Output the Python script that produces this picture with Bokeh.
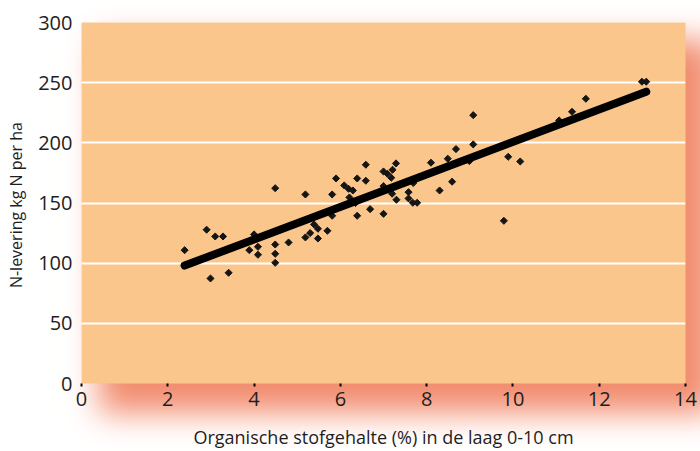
from bokeh.plotting import figure
from bokeh.models import FixedTicker, InlineStyleSheet
from bokeh.embed import file_html
from bokeh.resources import INLINE

# organic matter content (%) in the 0-10 cm layer
organic = [2.39, 2.90, 2.99, 3.10, 3.28, 3.41, 3.89, 4.00, 4.09, 4.09,
           4.49, 4.49, 4.49, 4.49, 4.80, 5.19, 5.19, 5.30, 5.39, 5.48,
           5.48, 5.70, 5.81, 5.81, 5.90, 6.09, 6.19, 6.29, 6.21, 6.39,
           6.59, 6.59, 6.39, 6.69, 6.35, 7.00, 7.09, 7.18, 7.21, 7.29,
           7.00, 7.00, 7.20, 7.30, 7.58, 7.58, 7.68, 7.78, 7.69, 8.10,
           8.30, 8.49, 8.59, 8.68, 8.99, 9.08, 9.08, 9.89, 10.17, 9.79,
           11.07, 11.37, 11.69, 12.99, 13.09]
# N supply, kg N per ha
n_supply = [110.8, 127.8, 87.3, 122.2, 122.2, 92.0, 110.8, 123.9, 113.6, 107.0,
            162.3, 115.5, 107.8, 100.3, 117.2, 157.1, 121.4, 125.0, 132.2, 128.6,
            120.5, 126.9, 157.1, 139.4, 170.4, 164.6, 161.8, 160.4, 154.6, 170.4,
            181.8, 168.5, 139.4, 144.9, 150.0, 176.2, 174.3, 171.0, 177.6, 182.9,
            141.0, 164.0, 157.7, 152.7, 159.0, 153.8, 150.2, 150.2, 166.6, 183.5,
            160.4, 186.8, 167.7, 194.8, 184.8, 198.7, 223.0, 188.4, 184.5, 135.2,
            218.6, 225.8, 236.6, 250.8, 250.8]
# regression line end points
fit_x = [2.39, 13.09]
fit_y = [98.0, 242.5]

x_ticks = [0, 2, 4, 6, 8, 10, 12, 14]
y_ticks = [0, 50, 100, 150, 200, 250, 300]
grid_ticks = [50, 100, 150, 200, 250]

FONT = "Open Sans"
TXT = "#1e1e1e"

FL, FT, FR, FB = 81, 22, 685, 383   # frame edges on the canvas

shadow_css = InlineStyleSheet(css=f"""
:host {{ position: relative; }}
:host::before {{
  content: "";
  position: absolute;
  left: {FL}px; top: {FT}px;
  width: {FR - FL}px; height: {FB - FT}px;
  box-shadow: 24px 24px 30px 6px #F28C6E;
  z-index: -1;
  pointer-events: none;
}}
""")

p = figure(width=700, height=451, x_range=(0, 14), y_range=(0, 300),
           output_backend="svg", toolbar_location=None,
           min_border_left=FL, min_border_right=700 - FR, min_border_top=FT,
           min_border_bottom=451 - FB, stylesheets=[shadow_css])
p.outline_line_color = None
p.background_fill_color = "#FAC68C"
p.border_fill_color = None

p.xgrid.visible = False
p.ygrid.ticker = FixedTicker(ticks=grid_ticks)
p.ygrid.grid_line_color = "white"
p.ygrid.grid_line_width = 2

p.xaxis.ticker = FixedTicker(ticks=x_ticks)
p.yaxis.ticker = FixedTicker(ticks=y_ticks)
for ax in (p.xaxis[0], p.yaxis[0]):
    ax.axis_line_color = None
    ax.minor_tick_line_color = None
    ax.major_label_text_font = FONT
    ax.major_label_text_font_size = "20px"
    ax.major_label_text_color = TXT
    ax.axis_label_text_font = FONT
    ax.axis_label_text_font_style = "normal"
    ax.axis_label_text_color = TXT

p.xaxis.major_tick_in = 0
p.xaxis.major_tick_out = 3
p.xaxis.major_tick_line_width = 2
p.xaxis.major_tick_line_color = "black"
p.xaxis.major_label_standoff = 5
p.xaxis.axis_label = "Organische stofgehalte (%) in de laag 0-10 cm"
p.xaxis.axis_label_text_font_size = "18px"
p.xaxis.axis_label_standoff = 16

p.yaxis.major_tick_in = 0
p.yaxis.major_tick_out = 0
p.yaxis.major_tick_line_color = None
p.yaxis.major_label_standoff = 9
p.yaxis.axis_label = "N-levering kg  N per ha"
p.yaxis.axis_label_text_font_size = "16px"
p.yaxis.axis_label_standoff = 8

p.scatter(organic, n_supply, marker="square", angle=0.785, size=5,
          fill_color="#151515", line_color="#151515", line_width=1)
p.line(fit_x, fit_y, line_width=8, line_cap="round", line_color="black")

open("out.html", "w").write(file_html(p, INLINE))
